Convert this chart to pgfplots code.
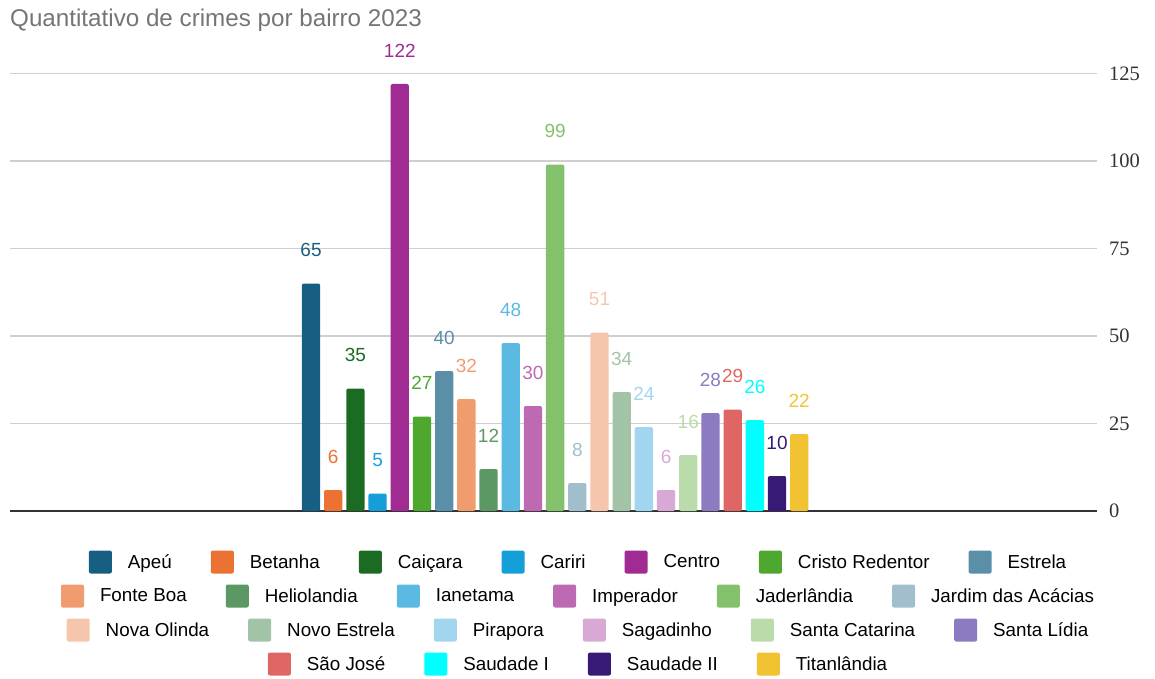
\documentclass[border=0pt]{standalone}
\usepackage{fontspec}
\setmainfont{Liberation Sans}
\newfontfamily\tickfont{Liberation Serif}
\usepackage{pgfplots}
\pgfplotsset{compat=1.18}
\definecolor{cA}{HTML}{175F82}
\definecolor{cB}{HTML}{EB7233}
\definecolor{cC}{HTML}{1B6B22}
\definecolor{cD}{HTML}{149FD8}
\definecolor{cE}{HTML}{A02B93}
\definecolor{cF}{HTML}{4EA72E}
\definecolor{cG}{HTML}{5B8FA8}
\definecolor{cH}{HTML}{F19C6F}
\definecolor{cI}{HTML}{5C9864}
\definecolor{cJ}{HTML}{5BBAE2}
\definecolor{cK}{HTML}{BD6AB2}
\definecolor{cL}{HTML}{84C16C}
\definecolor{cM}{HTML}{A1BECD}
\definecolor{cN}{HTML}{F6C6AC}
\definecolor{cO}{HTML}{A2C3A6}
\definecolor{cP}{HTML}{A2D6EE}
\definecolor{cQ}{HTML}{D9A9D5}
\definecolor{cR}{HTML}{B9DCAA}
\definecolor{cS}{HTML}{8C7BC0}
\definecolor{cT}{HTML}{E06666}
\definecolor{cU}{HTML}{00FFFF}
\definecolor{cV}{HTML}{371A75}
\definecolor{cW}{HTML}{F1C232}
\definecolor{gridc}{HTML}{CFCFCF}
\definecolor{axc}{HTML}{333333}
\definecolor{titc}{HTML}{757575}
\pgfplotsset{
  base/.style={
    scale only axis, width=1087pt, height=437.5pt,
    xmin=-13.565, xmax=35.42, ymin=0, ymax=125,
    ybar, bar width=18.3pt,
    /pgf/number format/assume math mode=true,
    clip=false,
    nodes near coords,
    every node near coord/.append style={font=\fontsize{19}{19}\selectfont, anchor=south, inner sep=0pt, yshift=26.5pt},
    legend image code/.code={\fill[##1, rounded corners=2pt] (0pt,-11.5pt) rectangle (23pt,11.5pt);},
    legend style={draw=none, fill=none, legend columns=-1, anchor=center,
      font=\fontsize{18.8}{18.8}\selectfont, inner sep=0pt, outer sep=0pt,
      /tikz/every odd column/.append style={column sep=16pt},
      /tikz/every even column/.append style={column sep=39pt},
      nodes={inner sep=0pt}},
  },
  b/.style={color=#1, fill=#1, draw=none, bar shift=0pt, rounded corners=2pt},
}
\begin{document}
\begin{tikzpicture}
\useasboundingbox (-10pt,-167pt) rectangle (1145pt,511pt);
\begin{axis}[base,
  axis x line=bottom, axis y line=right,
  x axis line style={draw=axc, line width=2pt, -},
  y axis line style={draw=none},
  xtick=\empty,
  ytick={0,25,50,75,100,125},
  major tick length=0pt,
  ymajorgrids, grid style={draw=gridc, line width=1.3pt},
  yticklabel style={font=\tickfont\fontsize{20.5}{20.5}\selectfont, text=axc, anchor=west, inner sep=0pt, xshift=12pt},
  title={Quantitativo de crimes por bairro 2023},
  title style={at={(axis description cs:0,1)}, anchor=base west, inner sep=0pt, yshift=40.5pt, font=\fontsize{24.2}{24.2}\selectfont, text=titc},
  legend style={at={(axis description cs:0.5221,-0.1166)}},
]
\addplot[b=cA] coordinates {(0,65)}; \addlegendentry{Apeú}
\addplot[b=cB] coordinates {(1,6)}; \addlegendentry{Betanha}
\addplot[b=cC] coordinates {(2,35)}; \addlegendentry{Caiçara}
\addplot[b=cD] coordinates {(3,5)}; \addlegendentry{Cariri}
\addplot[b=cE] coordinates {(4,122)}; \addlegendentry{Centro}
\addplot[b=cF] coordinates {(5,27)}; \addlegendentry{Cristo Redentor}
\addplot[b=cG] coordinates {(6,40)}; \addlegendentry{Estrela}
\end{axis}
\begin{axis}[base, hide axis,
  legend style={at={(axis description cs:0.5221,-0.1943)}}]
\addplot[b=cH] coordinates {(7,32)}; \addlegendentry{Fonte Boa}
\addplot[b=cI] coordinates {(8,12)}; \addlegendentry{Heliolandia}
\addplot[b=cJ] coordinates {(9,48)}; \addlegendentry{Ianetama}
\addplot[b=cK] coordinates {(10,30)}; \addlegendentry{Imperador}
\addplot[b=cL] coordinates {(11,99)}; \addlegendentry{Jaderlândia}
\addplot[b=cM] coordinates {(12,8)}; \addlegendentry{Jardim das Acácias}
\end{axis}
\begin{axis}[base, hide axis,
  legend style={at={(axis description cs:0.5221,-0.272)}}]
\addplot[b=cN] coordinates {(13,51)}; \addlegendentry{Nova Olinda}
\addplot[b=cO] coordinates {(14,34)}; \addlegendentry{Novo Estrela}
\addplot[b=cP] coordinates {(15,24)}; \addlegendentry{Pirapora}
\addplot[b=cQ] coordinates {(16,6)}; \addlegendentry{Sagadinho}
\addplot[b=cR] coordinates {(17,16)}; \addlegendentry{Santa Catarina}
\addplot[b=cS] coordinates {(18,28)}; \addlegendentry{Santa Lídia}
\end{axis}
\begin{axis}[base, hide axis,
  legend style={at={(axis description cs:0.5221,-0.3497)}}]
\addplot[b=cT] coordinates {(19,29)}; \addlegendentry{São José}
\addplot[b=cU] coordinates {(20,26)}; \addlegendentry{Saudade I}
\addplot[b=cV] coordinates {(21,10)}; \addlegendentry{Saudade II}
\addplot[b=cW] coordinates {(22,22)}; \addlegendentry{Titanlândia}
\end{axis}
\end{tikzpicture}
\end{document}
